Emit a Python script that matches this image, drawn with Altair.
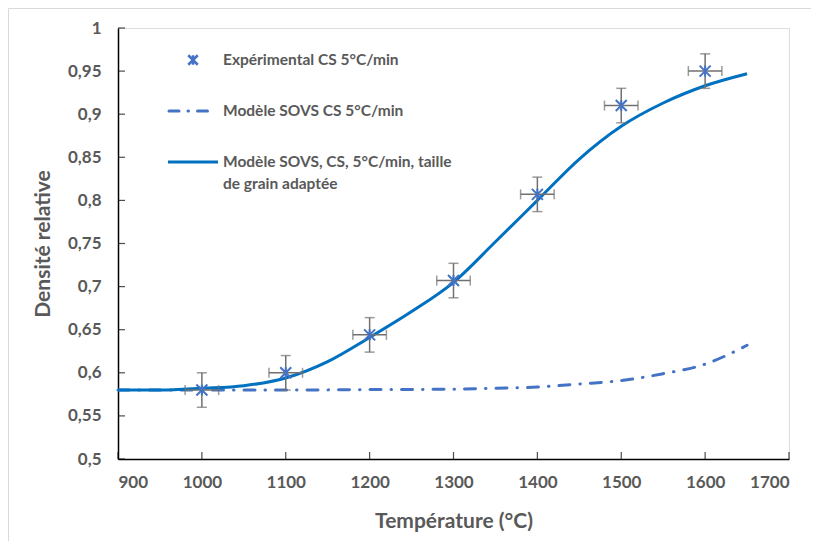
import altair as alt
import pandas as pd

# Experimental points
exp_T = [1000, 1100, 1200, 1300, 1400, 1500, 1600]
exp_d = [0.580, 0.600, 0.644, 0.707, 0.807, 0.910, 0.950]
err_T = [20, 20, 20, 20, 20, 20, 20]
err_d = [0.02, 0.02, 0.02, 0.02, 0.02, 0.02, 0.02]

# Model SOVS CS 5°C/min (dash-dot)
sovs_T = [900, 1000, 1100, 1200, 1300, 1350, 1400, 1450, 1500, 1550, 1600, 1625, 1650]
sovs_d = [0.580, 0.580, 0.580, 0.5805, 0.581, 0.582, 0.5835, 0.587, 0.591, 0.599, 0.610, 0.620, 0.632]

# Model SOVS, adapted grain size (solid)
adapt_T = [900, 950, 1000, 1050, 1100, 1150, 1200, 1250, 1300, 1350, 1400, 1450, 1500, 1550, 1600, 1650]
adapt_d = [0.580, 0.580, 0.582, 0.585, 0.594, 0.613, 0.641, 0.671, 0.705, 0.752, 0.800, 0.848, 0.886, 0.913, 0.933, 0.947]

x_ticks = [900, 1000, 1100, 1200, 1300, 1400, 1500, 1600, 1700]
y_ticks = [0.5, 0.55, 0.6, 0.65, 0.7, 0.75, 0.8, 0.85, 0.9, 0.95, 1.0]

legend_labels = ["Expérimental CS 5°C/min", "Modèle SOVS CS 5°C/min",
                 "Modèle SOVS, CS, 5°C/min, taille", "de grain adaptée"]

FONT = "Lato"
GRAY = "#595959"
W, H = 671, 431
DASH = [11, 10, 0.5, 10]

exp_df = pd.DataFrame({"T": exp_T, "d": exp_d})
exp_df["T_lo"] = [t - e for t, e in zip(exp_T, err_T)]
exp_df["T_hi"] = [t + e for t, e in zip(exp_T, err_T)]
exp_df["d_lo"] = [v - e for v, e in zip(exp_d, err_d)]
exp_df["d_hi"] = [v + e for v, e in zip(exp_d, err_d)]

sovs_df = pd.DataFrame({"T": sovs_T, "d": sovs_d})
adapt_df = pd.DataFrame({"T": adapt_T, "d": adapt_d})

xs = alt.Scale(domain=[900, 1700], nice=False, zero=False)
ys = alt.Scale(domain=[0.5, 1.0], nice=False, zero=False)

x_axis = alt.Axis(values=x_ticks, format="d", title="Température (°C)", grid=False,
                  domainColor="black", domainWidth=1.5, tickSize=0,
                  labelPadding=15, labelFontSize=17, labelColor=GRAY,
                  labelFont=FONT, labelFontWeight="bold",
                  titleFont=FONT, titleFontSize=21, titleColor=GRAY,
                  titleFontWeight="bold", titlePadding=20)
y_axis = alt.Axis(values=y_ticks, title="Densité relative", grid=False,
                  domainColor="black", domainWidth=1.5, tickSize=0,
                  labelPadding=17, labelFontSize=17, labelColor=GRAY,
                  labelFont=FONT, labelFontWeight="bold",
                  labelExpr="replace(format(datum.value, '.2~f'), '.', ',')",
                  titleFont=FONT, titleFontSize=21, titleColor=GRAY,
                  titleFontWeight="bold", titlePadding=14)

base_exp = alt.Chart(exp_df)

sovs_line = alt.Chart(sovs_df).mark_line(
    color="#4472C4", strokeWidth=3, strokeDash=DASH, strokeCap="round",
    interpolate="monotone"
).encode(x=alt.X("T:Q", scale=xs, axis=x_axis), y=alt.Y("d:Q", scale=ys, axis=y_axis))

adapt_line = alt.Chart(adapt_df).mark_line(
    color="#0070C0", strokeWidth=3, interpolate="monotone"
).encode(x=alt.X("T:Q", scale=xs), y=alt.Y("d:Q", scale=ys))

ERR_COLOR = "#707070"
v_err = base_exp.mark_rule(color=ERR_COLOR, strokeWidth=1.5).encode(
    x="T:Q", y="d_lo:Q", y2="d_hi:Q")
h_err = base_exp.mark_rule(color=ERR_COLOR, strokeWidth=1.5).encode(
    x="T_lo:Q", x2="T_hi:Q", y="d:Q")
cap_lo = base_exp.mark_tick(color=ERR_COLOR, thickness=1.5, size=10, orient="horizontal").encode(
    x="T:Q", y="d_lo:Q")
cap_hi = base_exp.mark_tick(color=ERR_COLOR, thickness=1.5, size=10, orient="horizontal").encode(
    x="T:Q", y="d_hi:Q")
cap_l = base_exp.mark_tick(color=ERR_COLOR, thickness=1.5, size=10, orient="vertical").encode(
    x="T_lo:Q", y="d:Q")
cap_r = base_exp.mark_tick(color=ERR_COLOR, thickness=1.5, size=10, orient="vertical").encode(
    x="T_hi:Q", y="d:Q")

STAR = "M-1,-1L1,1M-1,1L1,-1M0,-1L0,1"
points = base_exp.mark_point(shape=STAR, size=121, stroke="#4472C4", strokeWidth=2,
                             filled=False, opacity=1).encode(x="T:Q", y="d:Q")

# inside axis ticks
xt = alt.Chart(pd.DataFrame({"T": x_ticks})).mark_tick(
    color="black", thickness=1.2, size=7, orient="vertical", yOffset=-3.5
).encode(x=alt.X("T:Q", scale=xs), y=alt.value(H))
yt = alt.Chart(pd.DataFrame({"d": y_ticks})).mark_tick(
    color="black", thickness=1.2, size=7, orient="horizontal", xOffset=3.5
).encode(y=alt.Y("d:Q", scale=ys), x=alt.value(0))

# manual legend
one = pd.DataFrame({"a": [0]})
LX_TXT = 105
leg_star = alt.Chart(one).mark_point(shape=STAR, size=90, stroke="#4472C4", strokeWidth=2.5,
                                     filled=False, opacity=1).encode(
    x=alt.value(75), y=alt.value(32))
leg_dash = alt.Chart(one).mark_rule(color="#4472C4", strokeWidth=3, strokeDash=[10, 9, 0.5, 9],
                                    strokeCap="round").encode(
    x=alt.value(51), x2=alt.value(93), y=alt.value(83))
leg_solid = alt.Chart(one).mark_rule(color="#0070C0", strokeWidth=3).encode(
    x=alt.value(50), x2=alt.value(100), y=alt.value(134))

def leg_text(label, y):
    return alt.Chart(pd.DataFrame({"t": [label]})).mark_text(
        align="left", baseline="middle", font=FONT, fontSize=15.5, fontWeight="bold", color=GRAY
    ).encode(text="t:N", x=alt.value(LX_TXT), y=alt.value(y))

txts = [leg_text(legend_labels[0], 32), leg_text(legend_labels[1], 83),
        leg_text(legend_labels[2], 134), leg_text(legend_labels[3], 156)]

border = alt.Chart(one).mark_rect(fillOpacity=0, stroke="#D9D9D9", strokeWidth=1).encode(
    x=alt.value(-109.5), x2=alt.value(W + 40), y=alt.value(-19.5), y2=alt.value(H + 100))

chart = alt.layer(
    border, sovs_line, adapt_line, v_err, h_err, cap_lo, cap_hi, cap_l, cap_r, points,
    xt, yt, leg_star, leg_dash, leg_solid, *txts
).properties(
    width=W, height=H,
    autosize=alt.AutoSizeParams(type="none"),
    padding={"left": 110, "top": 20, "right": 22, "bottom": 82},
).configure_view(stroke=None).configure(background="white")

chart.save("out.html", embed_options={"renderer": "svg", "actions": False})
